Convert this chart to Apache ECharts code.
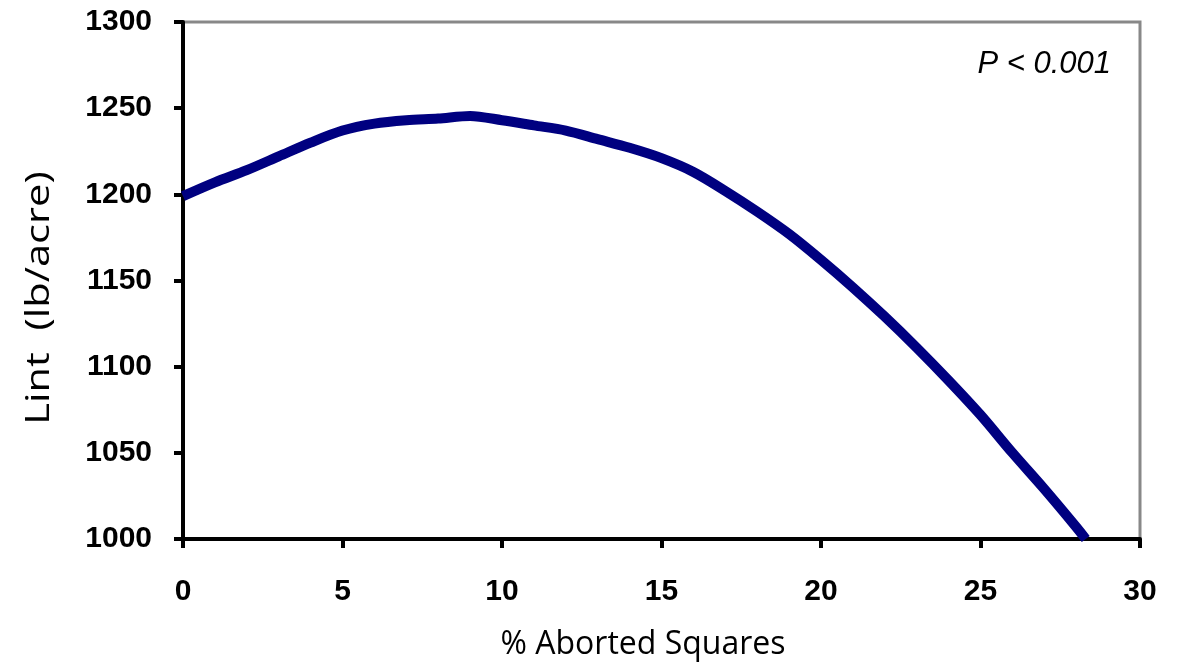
<!DOCTYPE html>
<html><head><meta charset="utf-8">
<script src="https://cdn.jsdelivr.net/npm/echarts@6/dist/echarts.min.js"></script>
<style>html,body{margin:0;padding:0;background:#fff}#c{width:1181px;height:666px}</style>
</head><body><div id="c"></div>
<script>
const xValues = [0, 1, 2, 3, 4, 5, 6, 7, 8, 9, 10, 11, 12, 13, 14, 15, 16, 17, 18, 19, 20, 21, 22, 23, 24, 25, 26, 27, 28, 28.3];
const lint = [1199, 1207, 1214, 1222, 1230, 1237, 1241, 1243, 1244, 1245.5, 1243, 1240, 1237, 1232, 1227, 1221, 1213, 1202, 1190, 1177, 1162, 1146, 1129, 1111, 1092, 1072, 1050, 1029, 1007, 1000];
const xTicks = [0, 5, 10, 15, 20, 25, 30];
const yTicks = [1000, 1050, 1100, 1150, 1200, 1250, 1300];
const xTitle = '% Aborted Squares';
const yTitle = 'Lint  (lb/acre)';
const note = 'P < 0.001';

const chart = echarts.init(document.getElementById('c'));
chart.setOption({
  animation: false,
  backgroundColor: '#fff',
  grid: {left: 183, right: 41, top: 22, bottom: 127, show: true, borderColor: '#888', borderWidth: 3},
  xAxis: {
    type: 'value', min: xTicks[0], max: xTicks[xTicks.length-1], interval: 5,
    axisLine: {show: true, lineStyle: {color: '#000', width: 4}},
    axisTick: {show: true, length: 9, lineStyle: {color: '#000', width: 4}},
    axisLabel: {fontFamily: 'Liberation Sans', fontWeight: 'bold', fontSize: 30, color: '#000', margin: 38, formatter: v => String(v)},
    splitLine: {show: false}
  },
  yAxis: {
    type: 'value', min: yTicks[0], max: yTicks[yTicks.length-1], interval: 50,
    axisLine: {show: true, lineStyle: {color: '#000', width: 4}},
    axisTick: {show: true, length: 9, lineStyle: {color: '#000', width: 4}},
    axisLabel: {fontFamily: 'Liberation Sans', fontWeight: 'bold', fontSize: 30, color: '#000', margin: 31, formatter: v => String(v)},
    splitLine: {show: false}
  },
  graphic: [{
    type: 'text', right: 70, top: 49,
    style: {text: note, font: 'italic 31px "Liberation Sans"', fill: '#000'}
  }, {
    type: 'text', x: 643, y: 645,
    style: {text: xTitle, font: '32px "Open Sans"', fill: '#000', align: 'center', verticalAlign: 'middle'}
  }, {
    type: 'text', x: 40, y: 298, rotation: Math.PI / 2, scaleX: 1.3,
    style: {text: yTitle, font: '32px "Open Sans"', fill: '#000', align: 'center', verticalAlign: 'middle'}
  }],
  series: [{
    type: 'line', showSymbol: false, smooth: 0.3,
    data: xValues.map((x, i) => [x, lint[i]]),
    lineStyle: {color: '#000080', width: 10},
    clip: true
  }]
});
</script></body></html>
